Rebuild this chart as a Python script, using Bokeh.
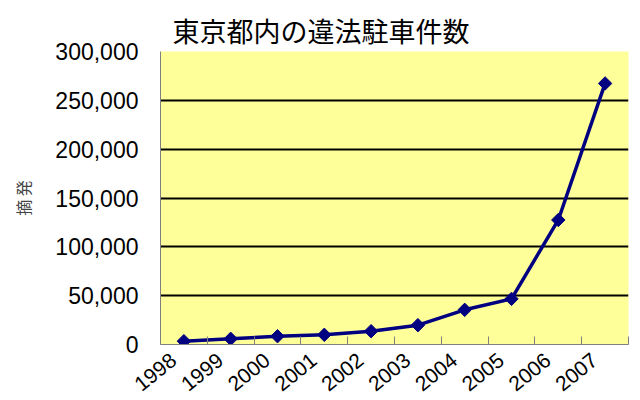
import math
from bokeh.plotting import figure
from bokeh.models import (FixedTicker, NumeralTickFormatter, Range1d, Title,
                          ColumnDataSource)
from bokeh.embed import file_html
from bokeh.resources import INLINE

# ---- data ----
title_text = "東京都内の違法駐車件数"
y_label = "摘 発"
years = ["1998", "1999", "2000", "2001", "2002", "2003", "2004", "2005", "2006", "2007"]
counts = [3400, 5800, 8500, 9900, 13600, 19800, 35500, 46700, 127500, 267300]
y_ticks = [0, 50000, 100000, 150000, 200000, 250000, 300000]

# category centres on a numeric axis
xs = [i + 0.5 for i in range(len(years))]
bounds = list(range(len(years) + 1))
label_pos = [x - 0.22 for x in xs]   # rotated labels end slightly left of centre

src = ColumnDataSource(dict(x=xs, y=counts))

p = figure(width=640, height=400, output_backend="svg", toolbar_location=None,
           x_range=Range1d(0, len(years)), y_range=Range1d(0, 300000),
           min_border_left=160, min_border_right=12, min_border_top=51,
           min_border_bottom=56)

p.border_fill_color = "white"
p.outline_line_color = None
p.background_fill_color = "#FFFF99"

# title
p.title = Title(text=title_text, align="left", offset=12, standoff=0,
                vertical_align="top",
                text_font="Noto Sans CJK JP", text_font_size="27px",
                text_font_style="normal", text_color="black")

# x axis: labels near category centres, tick marks between categories
p.xaxis.ticker = FixedTicker(ticks=label_pos, minor_ticks=bounds)
p.xaxis.major_label_overrides = {x: y for x, y in zip(label_pos, years)}
p.xaxis.major_tick_in = 0
p.xaxis.major_tick_out = 0
p.xaxis.minor_tick_in = 8
p.xaxis.minor_tick_out = 0
p.xaxis.minor_tick_line_color = "#808080"
p.xaxis.axis_line_color = "#808080"
p.xaxis.major_label_orientation = 0.68
p.xaxis.major_label_text_font = "Liberation Sans"
p.xaxis.major_label_text_font_size = "21px"
p.xaxis.major_label_text_color = "black"
p.xaxis.major_label_standoff = 13

# y axis
p.yaxis.ticker = FixedTicker(ticks=y_ticks)
p.yaxis.formatter = NumeralTickFormatter(format="0,0")
p.yaxis.major_tick_in = 0
p.yaxis.major_tick_out = 0
p.yaxis.minor_tick_line_color = None
p.yaxis.axis_line_color = "#808080"
p.yaxis.major_label_text_font = "Liberation Sans"
p.yaxis.major_label_text_font_size = "23px"
p.yaxis.major_label_text_color = "black"
p.yaxis.major_label_standoff = 22
p.yaxis.axis_label = y_label
p.yaxis.axis_label_text_font = "Noto Sans CJK JP"
p.yaxis.axis_label_text_font_size = "16px"
p.yaxis.axis_label_text_font_style = "normal"
p.yaxis.axis_label_standoff = 17

# grid
p.xgrid.grid_line_color = None
p.ygrid.ticker = FixedTicker(ticks=y_ticks)
p.ygrid.grid_line_color = "black"
p.ygrid.grid_line_width = 1.8

# series
p.line("x", "y", source=src, line_color="#000080", line_width=3.5)
p.scatter("x", "y", source=src, marker="square", angle=math.pi / 4, size=9.5,
          fill_color="#000080", line_color="#000080")

open("out.html", "w").write(file_html(p, INLINE))
